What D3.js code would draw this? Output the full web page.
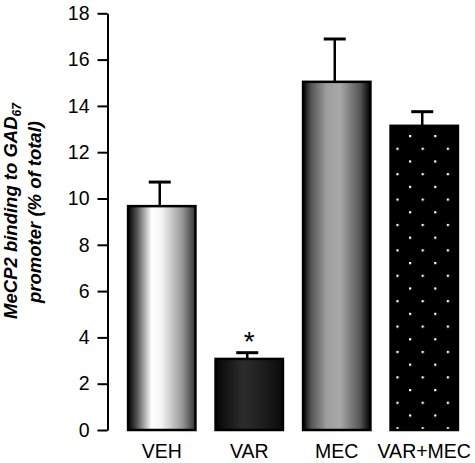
<!DOCTYPE html>
<html>
<head>
<meta charset="utf-8">
<script src="https://cdn.jsdelivr.net/npm/d3@7"></script>
<style>
  html, body { margin: 0; padding: 0; background: #fff; }
  svg { display: block; }
</style>
</head>
<body>
<script>
const categories = ["VEH", "VAR", "MEC", "VAR+MEC"];
const means = [9.67, 3.07, 15.04, 13.14];
const errors = [1.04, 0.27, 1.85, 0.61];
const significance = ["", "*", "", ""];
const yTicks = [0, 2, 4, 6, 8, 10, 12, 14, 16, 18];
const fills = ["url(#gVEH)", "url(#gVAR)", "url(#gMEC)", "url(#pDots)"];

const W = 475, H = 463;
const svg = d3.select("body").append("svg").attr("width", W).attr("height", H);

const y = d3.scaleLinear().domain([0, 18]).range([430, 13.3]);
const x = d3.scaleBand().domain(categories).range([118, 468]).paddingInner(0.23).paddingOuter(0.115);

const defs = svg.append("defs");
function grad(id, stops) {
  const g = defs.append("linearGradient").attr("id", id).attr("x1", "0").attr("x2", "1").attr("y1", "0").attr("y2", "0");
  stops.forEach(s => g.append("stop").attr("offset", s[0]).attr("stop-color", s[1]));
}
grad("gVEH", [[0, "#000"], [0.12, "#4a4a4a"], [0.35, "#fff"], [0.5, "#f4f4f4"], [0.8, "#999"], [1, "#333"]]);
grad("gVAR", [[0, "#050505"], [0.4, "#2c2c2c"], [0.7, "#1e1e1e"], [1, "#0a0a0a"]]);
grad("gMEC", [[0, "#000"], [0.12, "#555"], [0.35, "#9e9e9e"], [0.55, "#a8a8a8"], [0.85, "#555"], [1, "#000"]]);

const pat = defs.append("pattern").attr("id", "pDots").attr("patternUnits", "userSpaceOnUse")
  .attr("x", 409).attr("y", 135).attr("width", 25.2).attr("height", 25.4);
pat.append("rect").attr("width", 25.2).attr("height", 25.4).attr("fill", "#000");
pat.append("rect").attr("x", 0).attr("y", 0).attr("width", 2.2).attr("height", 2.2).attr("fill", "#fff");
pat.append("rect").attr("x", 12.6).attr("y", 12.7).attr("width", 2.2).attr("height", 2.2).attr("fill", "#fff");

// y axis
const axis = svg.append("g").attr("transform", "translate(107.5,0)")
  .call(d3.axisLeft(y).tickValues(yTicks).tickSize(10).tickPadding(8).tickSizeOuter(0));
axis.select(".domain").attr("stroke", "#000").attr("stroke-width", 2);
axis.selectAll(".tick line").attr("stroke", "#000").attr("stroke-width", 2);
axis.selectAll(".tick text").attr("font-family", "Liberation Sans, Arial, sans-serif")
  .attr("font-size", 19.5).attr("fill", "#000");

// bars
const data = categories.map((c, i) => ({c, m: means[i], e: errors[i], s: significance[i], f: fills[i]}));
svg.append("g").selectAll("rect").data(data).join("rect")
  .attr("x", d => x(d.c)).attr("width", x.bandwidth())
  .attr("y", d => y(d.m)).attr("height", d => y(0) - y(d.m))
  .attr("fill", d => d.f).attr("stroke", "#000").attr("stroke-width", 2.5);

// error bars
const eb = svg.append("g").attr("stroke", "#000");
eb.selectAll("line.stem").data(data).join("line").attr("class", "stem")
  .attr("x1", d => x(d.c) + x.bandwidth() / 2 - 2).attr("x2", d => x(d.c) + x.bandwidth() / 2 - 2)
  .attr("y1", d => y(d.m)).attr("y2", d => y(d.m + d.e)).attr("stroke-width", 2.5);
eb.selectAll("line.cap").data(data).join("line").attr("class", "cap")
  .attr("x1", d => x(d.c) + x.bandwidth() / 2 - 13).attr("x2", d => x(d.c) + x.bandwidth() / 2 + 9)
  .attr("y1", d => y(d.m + d.e)).attr("y2", d => y(d.m + d.e)).attr("stroke-width", 3);

// significance
svg.append("g").selectAll("text").data(data.filter(d => d.s)).join("text")
  .attr("x", d => x(d.c) + x.bandwidth() / 2).attr("y", d => y(d.m + d.e) - 2)
  .attr("text-anchor", "middle").attr("font-family", "Liberation Sans, Arial, sans-serif")
  .attr("font-size", 28).text(d => d.s);

// x labels
svg.append("g").selectAll("text").data(categories).join("text")
  .attr("x", d => x(d) + x.bandwidth() / 2).attr("y", 457.5)
  .attr("text-anchor", "middle").attr("font-family", "Liberation Sans, Arial, sans-serif")
  .attr("font-size", 19.5).attr("fill", "#000").text(d => d);

// y title
const t = svg.append("text").attr("transform", "rotate(-90)")
  .attr("font-family", "Liberation Sans, Arial, sans-serif").attr("font-weight", "bold")
  .attr("font-style", "italic").attr("font-size", 18.5).attr("text-anchor", "middle");
const l1 = t.append("tspan").attr("x", -211).attr("y", 17);
l1.append("tspan").text("MeCP2 binding to GAD");
l1.append("tspan").attr("font-size", 12).attr("dy", 4).text("67");
t.append("tspan").attr("x", -212).attr("y", 41).text("promoter (% of total)");
</script>
</body>
</html>
